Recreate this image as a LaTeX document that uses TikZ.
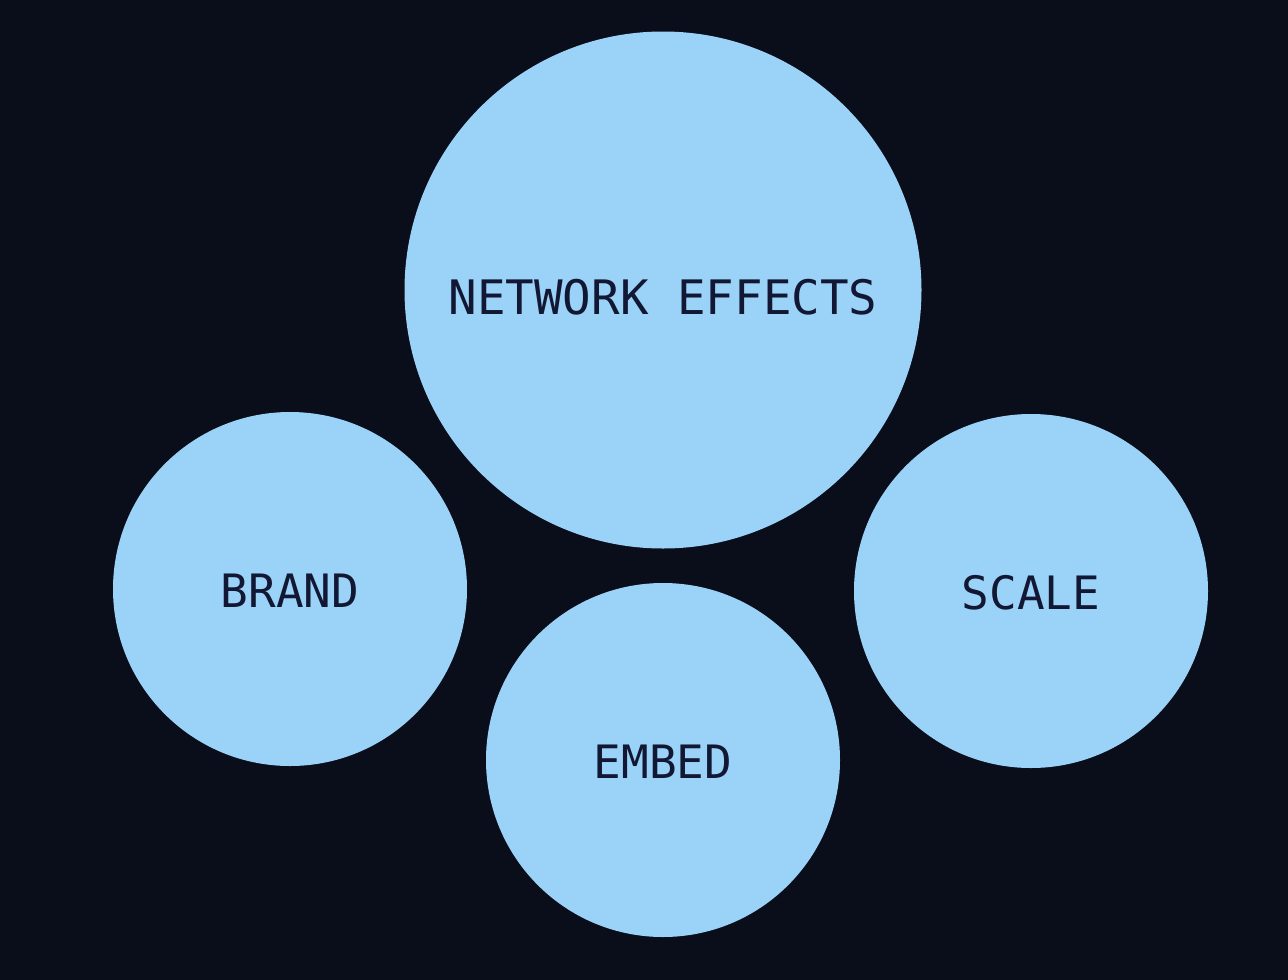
\documentclass[tikz,border=0pt]{standalone}
\usepackage{fontspec}
\newfontfamily\monofont{DejaVu Sans Mono}
\definecolor{bg}{HTML}{0A0D1A}
\definecolor{bubble}{HTML}{9BD3F8}
\definecolor{ink}{HTML}{121833}
\begin{document}
\begin{tikzpicture}[x=1pt,y=-1pt,
  bubblestyle/.style={circle,fill=bubble,draw=none,inner sep=0pt},
  labelstyle/.style={text=ink,inner sep=0pt,font=\monofont\fontsize{46}{46}\selectfont}]
\fill[bg] (0,0) rectangle (1288,980);
\useasboundingbox (0,0) rectangle (1288,980);
\node[bubblestyle,minimum size=517pt] (net) at (663,290) {};
\node[labelstyle,font=\monofont\fontsize{47.5}{47.5}\selectfont] (netl) at (663,297) {NETWORK EFFECTS};
\node[bubblestyle,minimum size=354pt] (brand) at (290,589) {};
\node[labelstyle] (brandl) at (290,591) {BRAND};
\node[bubblestyle,minimum size=354pt] (embed) at (663,760) {};
\node[labelstyle] (embedl) at (663,762) {EMBED};
\node[bubblestyle,minimum size=354pt] (scale) at (1031,591) {};
\node[labelstyle] (scalel) at (1031,593) {SCALE};
\end{tikzpicture}
\end{document}
